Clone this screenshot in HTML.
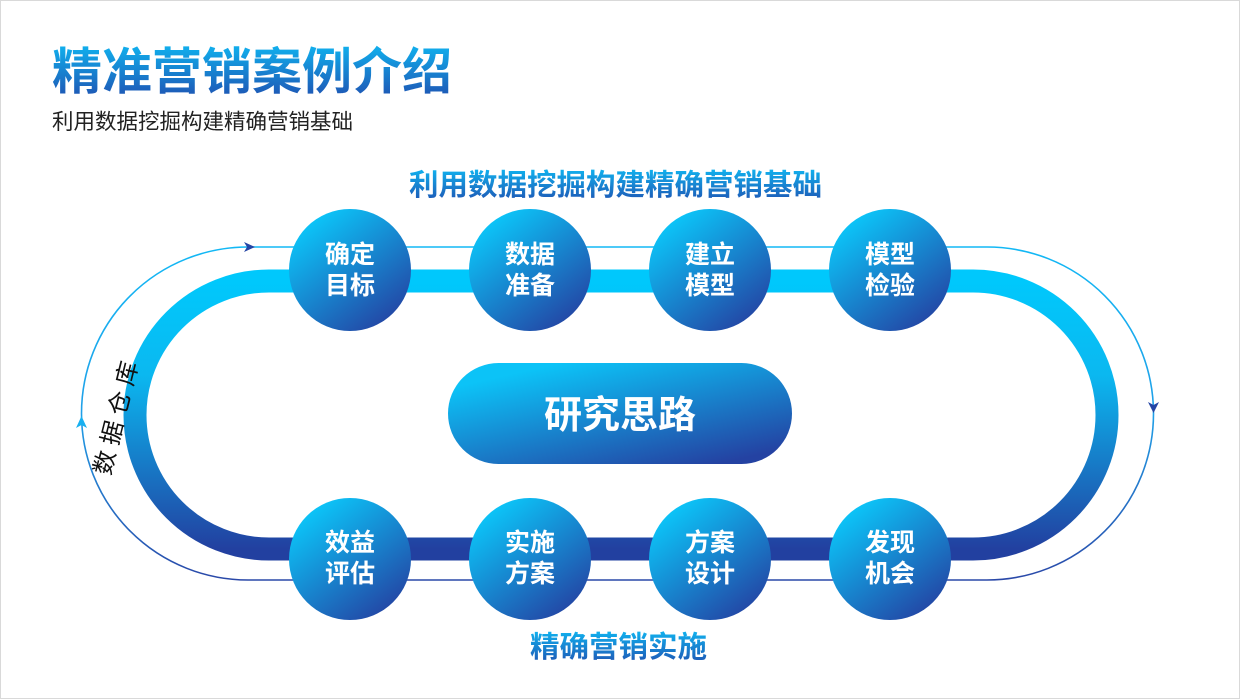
<!DOCTYPE html>
<html><head><meta charset="utf-8"><style>
html,body{margin:0;padding:0;background:#fff}
body{width:1240px;height:699px;position:relative;overflow:hidden;font-family:"Liberation Sans","Noto Sans CJK SC",sans-serif}
.frame{position:absolute;left:0;top:0;width:1238px;height:697px;border:1px solid #d9d9d9}
.t{position:absolute;white-space:nowrap;font-weight:bold;background:linear-gradient(180deg,#10b4f0,#1f4fb0);-webkit-background-clip:text;background-clip:text;color:transparent}
</style></head><body>
<div class="frame"></div>
<div class="t" style="left:52px;top:43px;font-size:50px;line-height:58px;">精准营销案例介绍</div>
<div style="position:absolute;left:52px;top:108px;font-size:21.5px;line-height:28px;color:#222;white-space:nowrap">利用数据挖掘构建精确营销基础</div>
<div class="t" style="left:409px;top:168px;font-size:29.5px;line-height:36px;">利用数据挖掘构建精确营销基础</div>
<div class="t" style="left:530px;top:630px;font-size:29.5px;line-height:36px;">精确营销实施</div>
<svg width="1240" height="699" style="position:absolute;left:0;top:0">
<defs>
<linearGradient id="tr" x1="0" y1="281" x2="0" y2="549" gradientUnits="userSpaceOnUse">
<stop offset="0" stop-color="#00c8fc"/><stop offset="0.35" stop-color="#0bb8f0"/><stop offset="1" stop-color="#2240a0"/></linearGradient>
<linearGradient id="th" x1="0" y1="247" x2="0" y2="580" gradientUnits="userSpaceOnUse">
<stop offset="0" stop-color="#12b8f5"/><stop offset="0.5" stop-color="#20a0e8"/><stop offset="1" stop-color="#2a48a8"/></linearGradient>
<linearGradient id="cg" x1="0.2" y1="0.1" x2="0.85" y2="0.95">
<stop offset="0" stop-color="#0cc3f7"/><stop offset="1" stop-color="#2442a2"/></linearGradient>
</defs>
<path d="M269 281 H973 A134 134 0 0 1 973 549 H269 A134 134 0 0 1 269 281 Z" fill="none" stroke="url(#tr)" stroke-width="23"/>
<path d="M248 247 H987 A166.5 166.5 0 0 1 987 580 H248 A166.5 166.5 0 0 1 248 247 Z" fill="none" stroke="url(#th)" stroke-width="1.6"/>
<path d="M244 242 L255 247 L244 252 L247 247 Z" fill="#2445a5"/>
<path d="M1148 402 L1153.5 413 L1159 402 L1153.5 405 Z" fill="#2445a5"/>
<path d="M76 428 L81.5 416 L87 428 L81.5 425 Z" fill="#18b0f0"/>
<g fill="url(#cg)">
<circle cx="350" cy="270" r="61"/><circle cx="530" cy="270" r="61"/><circle cx="710" cy="270" r="61"/><circle cx="890" cy="270" r="61"/>
<circle cx="350" cy="559" r="61"/><circle cx="530" cy="559" r="61"/><circle cx="710" cy="559" r="61"/><circle cx="890" cy="559" r="61"/>
<rect x="448" y="363" width="344" height="101" rx="50.5"/>
</g>
<g fill="#fff" font-weight="bold" font-size="25" text-anchor="middle" font-family="Liberation Sans, Noto Sans CJK SC, sans-serif">
<text x="350" y="263">确定</text><text x="350" y="294">目标</text>
<text x="530" y="263">数据</text><text x="530" y="294">准备</text>
<text x="710" y="263">建立</text><text x="710" y="294">模型</text>
<text x="890" y="263">模型</text><text x="890" y="294">检验</text>
<text x="350" y="551">效益</text><text x="350" y="582">评估</text>
<text x="530" y="551">实施</text><text x="530" y="582">方案</text>
<text x="710" y="551">方案</text><text x="710" y="582">设计</text>
<text x="890" y="551">发现</text><text x="890" y="582">机会</text>
<text x="620" y="428" font-size="38">研究思路</text>
</g>
<text x="0" y="0" font-size="24" fill="#111" text-anchor="middle" font-family="Liberation Sans, Noto Sans CJK SC, sans-serif" transform="translate(124 420) rotate(-76)">数 据 仓 库</text>
</svg>
</body></html>
